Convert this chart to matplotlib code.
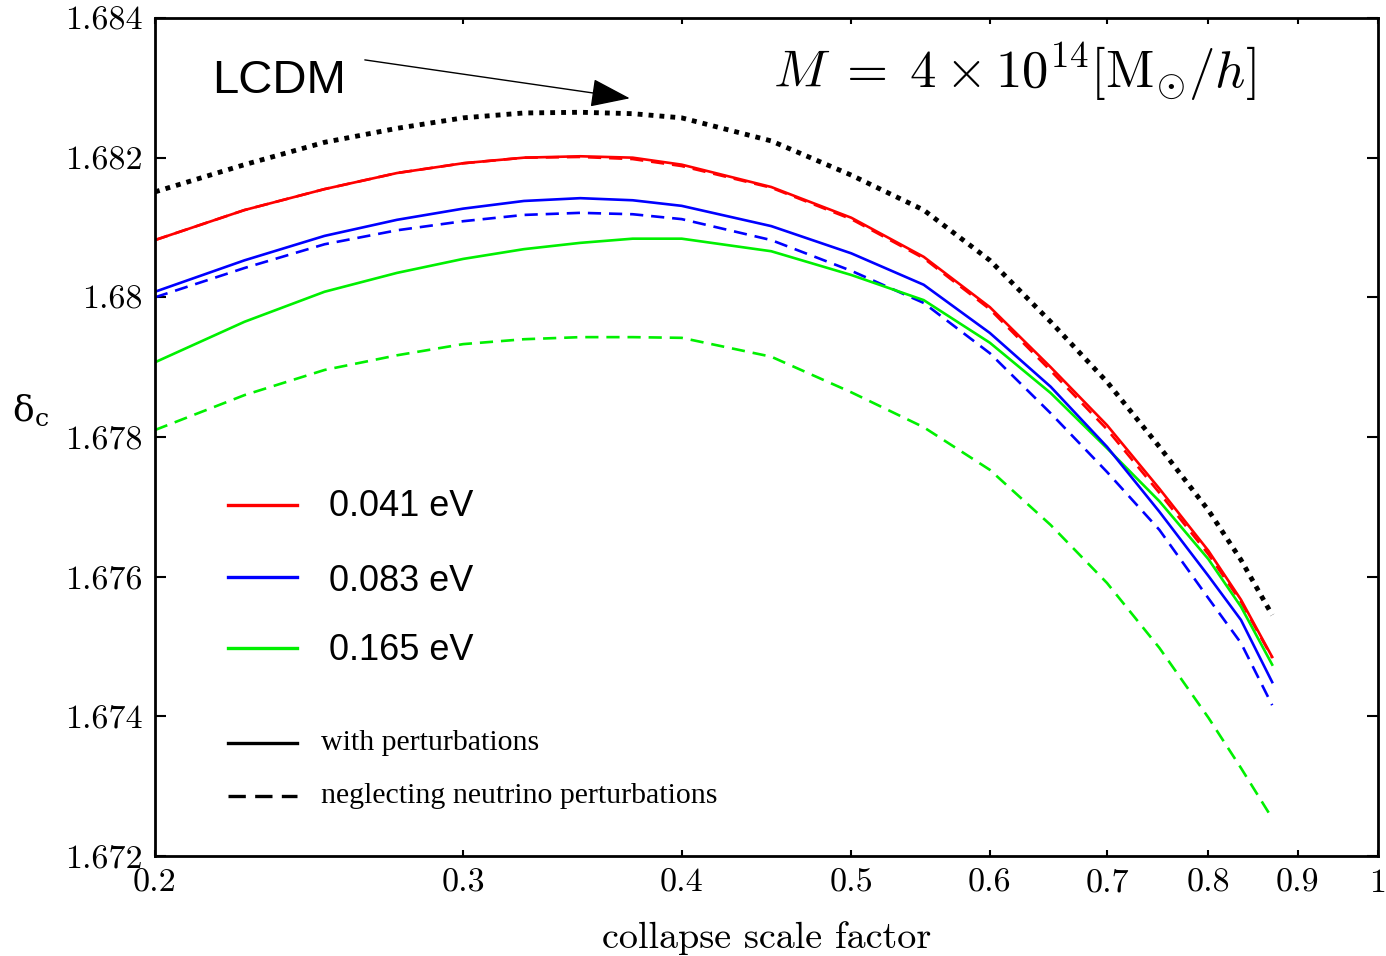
import numpy as np
import matplotlib
matplotlib.use("Agg")
import matplotlib.pyplot as plt
from matplotlib.ticker import FixedLocator, NullLocator

# ---------------- data ----------------
a_vals = [0.2, 0.225, 0.25, 0.275, 0.3, 0.325, 0.35, 0.375, 0.4, 0.45,
          0.5, 0.55, 0.6, 0.65, 0.7, 0.75, 0.8, 0.835, 0.87]

lcdm = [1.68151, 1.68190, 1.68222, 1.68242, 1.68257, 1.68264, 1.68265, 1.68263,
        1.68257, 1.68224, 1.68175, 1.68125, 1.68053, 1.67965, 1.67879, 1.67786,
        1.67695, 1.67624, 1.67545]

red_pert = [1.68082, 1.68125, 1.68155, 1.68178, 1.68192, 1.68200, 1.68202, 1.68200,
            1.68190, 1.68158, 1.68114, 1.68058, 1.67986, 1.67900, 1.67817, 1.67726,
            1.67637, 1.67567, 1.67485]
red_nopert = [1.68082, 1.68125, 1.68155, 1.68178, 1.68192, 1.68200, 1.68201, 1.68198,
              1.68188, 1.68157, 1.68112, 1.68056, 1.67983, 1.67895, 1.67811, 1.67720,
              1.67632, 1.67564, 1.67484]

blue_pert = [1.68008, 1.68053, 1.68088, 1.68111, 1.68127, 1.68138, 1.68142, 1.68139,
             1.68131, 1.68102, 1.68063, 1.68018, 1.67949, 1.67872, 1.67786, 1.67693,
             1.67601, 1.67538, 1.67449]
blue_nopert = [1.68000, 1.68042, 1.68076, 1.68096, 1.68109, 1.68118, 1.68121, 1.68119,
               1.68112, 1.68082, 1.68038, 1.67992, 1.67920, 1.67834, 1.67750, 1.67667,
               1.67569, 1.67505, 1.67416]

green_pert = [1.67907, 1.67965, 1.68008, 1.68035, 1.68055, 1.68069, 1.68078, 1.68084,
              1.68084, 1.68066, 1.68032, 1.67996, 1.67935, 1.67863, 1.67784, 1.67708,
              1.67625, 1.67557, 1.67474]
green_nopert = [1.67810, 1.67860, 1.67896, 1.67917, 1.67933, 1.67940, 1.67943, 1.67943,
                1.67942, 1.67915, 1.67864, 1.67814, 1.67753, 1.67674, 1.67591, 1.67498,
                1.67398, 1.67326, 1.67254]

mass_labels = ["0.041 eV", "0.083 eV", "0.165 eV"]
style_labels = ["with perturbations", "neglecting neutrino perturbations"]

x_ticks = [0.2, 0.3, 0.4, 0.5, 0.6, 0.7, 0.8, 0.9, 1.0]
x_ticklabels = ["0.2", "0.3", "0.4", "0.5", "0.6", "0.7", "0.8", "0.9", "1"]
y_ticks = [1.672, 1.674, 1.676, 1.678, 1.680, 1.682, 1.684]
y_ticklabels = ["1.672", "1.674", "1.676", "1.678", "1.68", "1.682", "1.684"]

# ---------------- figure ----------------
plt.rcParams['mathtext.fontset'] = 'cm'
fig = plt.figure(figsize=(13.86, 9.56), dpi=100)
ax = fig.add_axes([155/1386, 1 - 856/956, (1378-155)/1386, (856-18)/956])

RED, BLUE, GREEN = "#ff0000", "#0000ff", "#00f000"
LW = 1.9
DASH = (0, (5, 3))

ax.plot(a_vals, red_nopert, color=RED, lw=LW, ls=DASH)
ax.plot(a_vals, blue_nopert, color=BLUE, lw=LW, ls=DASH)
ax.plot(a_vals, green_nopert, color=GREEN, lw=LW, ls=DASH)
ax.plot(a_vals, green_pert, color=GREEN, lw=LW)
ax.plot(a_vals, blue_pert, color=BLUE, lw=LW)
ax.plot(a_vals, red_pert, color=RED, lw=LW)
ax.plot(a_vals, lcdm, color="black", lw=3.5, ls=(0, (1, 1.25)), dash_capstyle="butt")

ax.set_xscale("log")
ax.set_xlim(0.2, 1.0)
ax.set_ylim(1.672, 1.684)

ax.xaxis.set_major_locator(FixedLocator(x_ticks))
ax.xaxis.set_minor_locator(NullLocator())
ax.set_xticklabels(x_ticklabels, fontfamily="cmr10", fontsize=24.5)
ax.yaxis.set_major_locator(FixedLocator(y_ticks))
ax.yaxis.set_minor_locator(NullLocator())
ax.set_yticklabels(y_ticklabels, fontfamily="cmr10", fontsize=24.5)

ax.tick_params(axis="x", which="both", direction="in", top=True, bottom=True,
               length=4, width=1.5, pad=9)
ax.tick_params(axis="y", which="both", direction="in", left=True, right=True,
               length=8, width=1.5, pad=9)
for sp in ax.spines.values():
    sp.set_linewidth(2.0)

ax.set_xlabel("collapse scale factor", fontfamily="cmr10", fontsize=27.5, labelpad=17)
ax.set_ylabel(r"$\mathregular{\delta_c}$", fontfamily="DejaVu Serif", fontsize=26,
              rotation=0, va="center", ha="center")
ax.yaxis.set_label_coords(-0.102, 0.532)

# annotations
ax.text(0.0466, 0.9105, "LCDM", transform=ax.transAxes, fontfamily="Liberation Sans",
        fontsize=34, va="baseline", ha="left")
ax.annotate("", xy=(0.3736, 1.68285), xytext=(0.2636, 1.68340),
            arrowprops=dict(arrowstyle="-|>,head_length=2.5,head_width=0.9",
                            mutation_scale=10, color="black", lw=1.0,
                            shrinkA=0, shrinkB=0))
ax.text(0.5053, 0.9165, r"$M\;=\;4\times10^{14}[\mathrm{M}_{\odot}/h]$",
        transform=ax.transAxes, fontsize=38, va="baseline", ha="left")

# manual legend
leg_x0, leg_x1 = 0.0597, 0.1161
for col, lab, yl, yt in zip([RED, BLUE, GREEN], mass_labels,
                            [0.4189, 0.3329, 0.2482], [0.4165, 0.3270, 0.2458]):
    ax.plot([leg_x0, leg_x1], [yl, yl], color=col, lw=2.4, transform=ax.transAxes)
    ax.text(0.1423, yt, lab, transform=ax.transAxes, fontfamily="Liberation Sans",
            fontsize=26, va="center", ha="left")
for ls, lab, yl in zip(["-", (0, (5.2, 2.8))], style_labels, [0.1348, 0.0716]):
    ax.plot([leg_x0, leg_x1], [yl, yl], color="black", lw=2.4, ls=ls,
            transform=ax.transAxes)
    ax.text(0.1357, yl, lab, transform=ax.transAxes, fontfamily="Liberation Serif",
            fontsize=21.5, va="center", ha="left")

ax.set_xlim(0.2, 1.0)
ax.set_ylim(1.672, 1.684)
fig.savefig("out.png", dpi=100)
